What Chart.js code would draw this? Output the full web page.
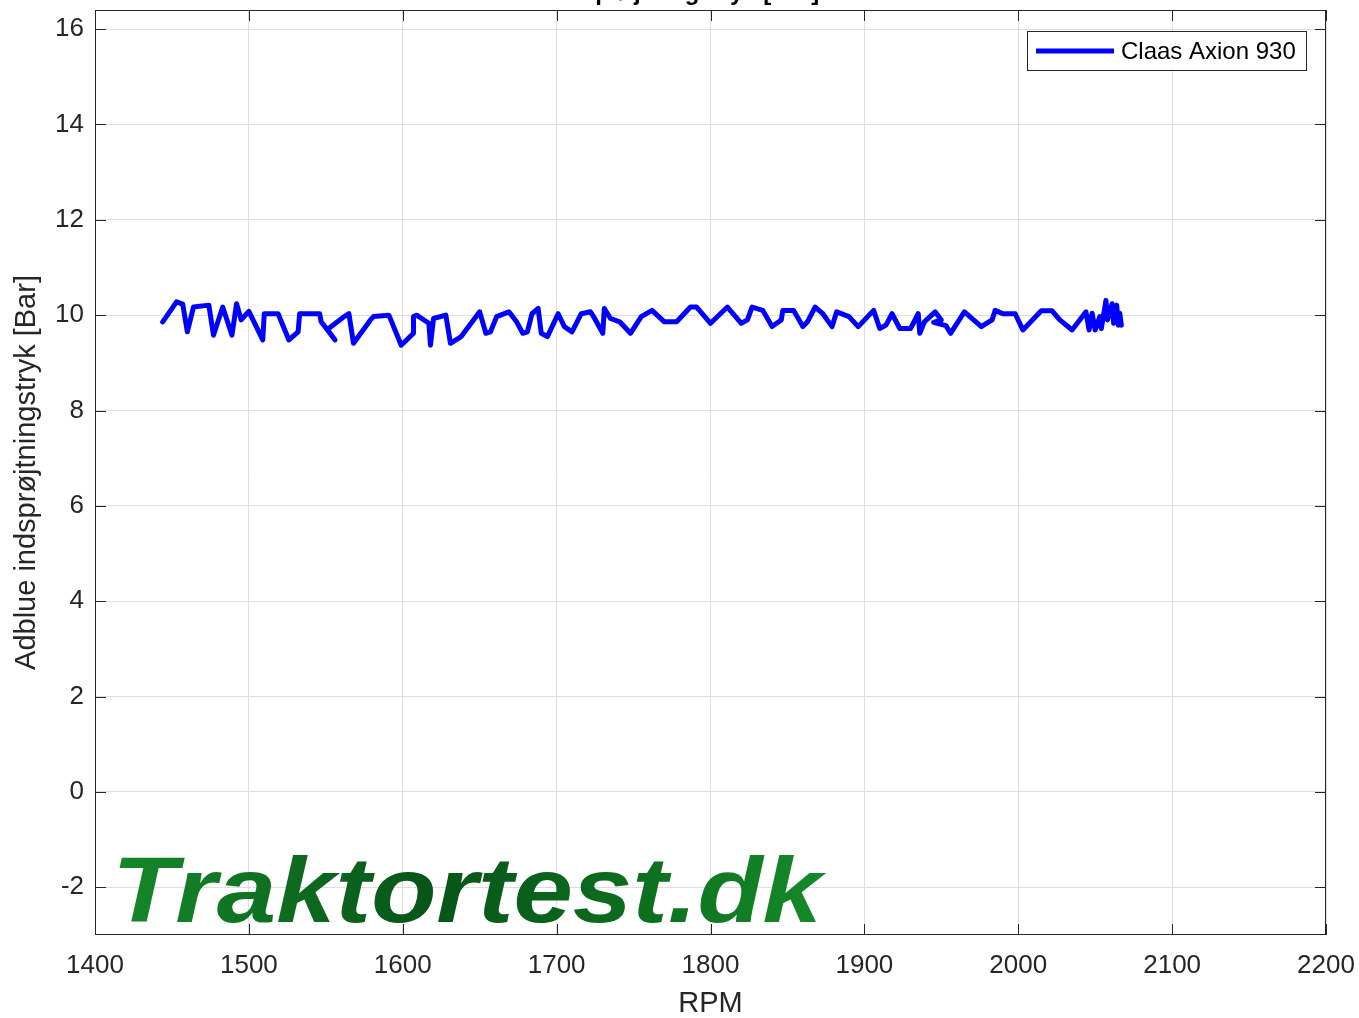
<!DOCTYPE html>
<html>
<head>
<meta charset="utf-8">
<script src="https://cdn.jsdelivr.net/npm/chart.js@4/dist/chart.umd.min.js"></script>
<style>
  html, body { margin: 0; padding: 0; background: #fff; }
  #wrap { width: 1359px; height: 1018px; }
</style>
</head>
<body>
<div id="wrap"><canvas id="adblueChart"></canvas></div>
<script>
// rpm / pressure pairs (order matters, line goes back and forth)
const rpm = [1444,1453,1457,1460,1464,1474,1477,1483,1489,1492,1495,1500,1509,1510,1519,1526,1532,1533,1546,1547,1556,1551,1562,1565,1568,1579,1581,1591,1599,1607,1607,1609,1617,1618,1620,1628,1631,1638,1650,1654,1657,1661,1669,1674,1678,1681,1684,1688,1690,1694,1701,1705,1710,1716,1722,1724,1730,1731,1735,1741,1748,1755,1762,1770,1778,1787,1791,1800,1811,1820,1824,1827,1834,1840,1846,1847,1854,1860,1863,1868,1873,1879,1882,1890,1896,1906,1910,1914,1918,1923,1930,1935,1936,1939,1946,1950,1945,1953,1956,1965,1976,1983,1985,1990,1998,2003,2015,2022,2027,2035,2044,2046,2048,2050,2053,2054,2057,2058,2061,2062,2064,2065,2066,2067];
const pressure = [9.86,10.28,10.23,9.65,10.17,10.21,9.58,10.17,9.58,10.24,9.9,10.08,9.48,10.03,10.03,9.48,9.65,10.03,10.03,9.86,9.48,9.7,9.97,10.03,9.41,9.9,9.97,10.0,9.37,9.62,9.97,10.0,9.83,9.37,9.93,10.0,9.41,9.55,10.07,9.62,9.65,9.97,10.07,9.86,9.62,9.65,10.03,10.14,9.62,9.55,10.03,9.76,9.65,10.03,10.07,9.97,9.62,10.14,9.93,9.86,9.62,9.97,10.1,9.86,9.86,10.17,10.17,9.83,10.17,9.83,9.9,10.17,10.1,9.76,9.9,10.1,10.1,9.76,9.86,10.17,10.03,9.76,10.07,9.97,9.76,10.1,9.72,9.79,10.03,9.72,9.72,10.03,9.62,9.86,10.07,9.9,9.85,9.78,9.62,10.07,9.76,9.9,10.1,10.03,10.03,9.69,10.09,10.09,9.9,9.69,10.07,9.69,10.04,9.69,9.97,9.72,10.31,9.9,10.24,9.83,10.21,9.79,10.04,9.79];

const xTicks = [1400,1500,1600,1700,1800,1900,2000,2100,2200];
const yTicks = [-2,0,2,4,6,8,10,12,14,16];
const seriesName = 'Claas Axion 930';
const titleText = 'Adblue indsprøjtningstryk [Bar]';
const yLabel = 'Adblue indsprøjtningstryk [Bar]';
const xLabel = 'RPM';
const watermark = 'Traktortest.dk';

const axisColor = '#262626';
const fontFam = '"Liberation Sans", Arial, Helvetica, sans-serif';

const points = rpm.map((r, i) => ({ x: r, y: pressure[i] }));

// frame, inward ticks, legend, cut-off title and watermark
const decorPlugin = {
  id: 'decor',
  afterDraw(chart) {
    const ctx = chart.ctx;
    const a = chart.chartArea;
    const xs = chart.scales.x, ys = chart.scales.y;
    ctx.save();

    ctx.strokeStyle = axisColor;
    ctx.lineWidth = 1;
    ctx.strokeRect(a.left + 0.5, a.top + 0.5, a.right - a.left - 1, a.bottom - a.top - 1);
    ctx.beginPath();
    xTicks.forEach(v => {
      const px = Math.round(xs.getPixelForValue(v)) + 0.5;
      ctx.moveTo(px, a.bottom); ctx.lineTo(px, a.bottom - 11);
      ctx.moveTo(px, a.top); ctx.lineTo(px, a.top + 11);
    });
    yTicks.forEach(v => {
      const py = Math.round(ys.getPixelForValue(v)) + 0.5;
      ctx.moveTo(a.left, py); ctx.lineTo(a.left + 11, py);
      ctx.moveTo(a.right, py); ctx.lineTo(a.right - 11, py);
    });
    ctx.stroke();

    // legend box
    ctx.fillStyle = '#fff';
    ctx.fillRect(1027, 31, 279, 39);
    ctx.strokeStyle = axisColor;
    ctx.strokeRect(1027.5, 31.5, 279, 39);
    ctx.strokeStyle = '#0000ff';
    ctx.lineWidth = 5;
    ctx.beginPath();
    ctx.moveTo(1036, 51); ctx.lineTo(1114, 51);
    ctx.stroke();
    ctx.fillStyle = '#000';
    ctx.font = '24px ' + fontFam;
    ctx.textAlign = 'left';
    ctx.textBaseline = 'middle';
    ctx.fillText(seriesName, 1121, 52);

    // title, mostly above the canvas edge
    ctx.font = 'bold 24px ' + fontFam;
    ctx.textBaseline = 'alphabetic';
    ctx.fillStyle = '#000';
    ctx.fillText(titleText, 458, 0);

    // watermark, stretched a bit to the reference width
    ctx.font = 'italic bold 92px ' + fontFam;
    const w = ctx.measureText(watermark).width;
    const sx = 710 / w;
    ctx.setTransform(sx, 0, 0, 1, 112, 922);
    const g = ctx.createLinearGradient(0, 0, w, 0);
    g.addColorStop(0, '#15892a');
    g.addColorStop(0.45, '#085418');
    g.addColorStop(0.75, '#0d6f1e');
    g.addColorStop(1, '#158a2a');
    ctx.fillStyle = g;
    ctx.fillText(watermark, 0, 0);

    ctx.restore();
  }
};

const ctx = document.getElementById('adblueChart').getContext('2d');
new Chart(ctx, {
  type: 'line',
  data: {
    datasets: [{
      label: seriesName,
      data: points,
      borderColor: '#0000ff',
      borderWidth: 5,
      pointRadius: 0,
      fill: false,
      tension: 0,
      borderJoinStyle: 'round',
      borderCapStyle: 'round'
    }]
  },
  options: {
    responsive: true,
    maintainAspectRatio: false,
    animation: false,
    layout: { padding: { top: 10, right: 33, left: 0, bottom: 0 } },
    plugins: {
      legend: { display: false },
      tooltip: { enabled: false }
    },
    scales: {
      x: {
        type: 'linear',
        min: 1400,
        max: 2200,
        afterBuildTicks: s => { s.ticks = xTicks.map(v => ({ value: v })); },
        afterFit: s => { s.height = 83; s.paddingLeft = 0; s.paddingRight = 0; },
        ticks: { color: axisColor, font: { family: fontFam, size: 26 }, padding: 15, maxRotation: 0, callback: v => String(v) },
        grid: { color: '#dedede', drawTicks: false },
        border: { display: false },
        title: { display: true, text: xLabel, color: axisColor, font: { family: fontFam, size: 29 }, padding: { top: 0, bottom: -3 } }
      },
      y: {
        min: -3,
        max: 16.4,
        afterBuildTicks: s => { s.ticks = yTicks.map(v => ({ value: v })); },
        afterFit: s => { s.width = 95; s.paddingTop = 0; s.paddingBottom = 0; },
        ticks: { color: axisColor, font: { family: fontFam, size: 26 }, padding: 11, callback: v => String(v) },
        grid: { color: '#dedede', drawTicks: false },
        border: { display: false },
        title: { display: true, text: yLabel, color: axisColor, font: { family: fontFam, size: 29 }, padding: { top: 10, bottom: 0 } }
      }
    }
  },
  plugins: [decorPlugin]
});
</script>
</body>
</html>
